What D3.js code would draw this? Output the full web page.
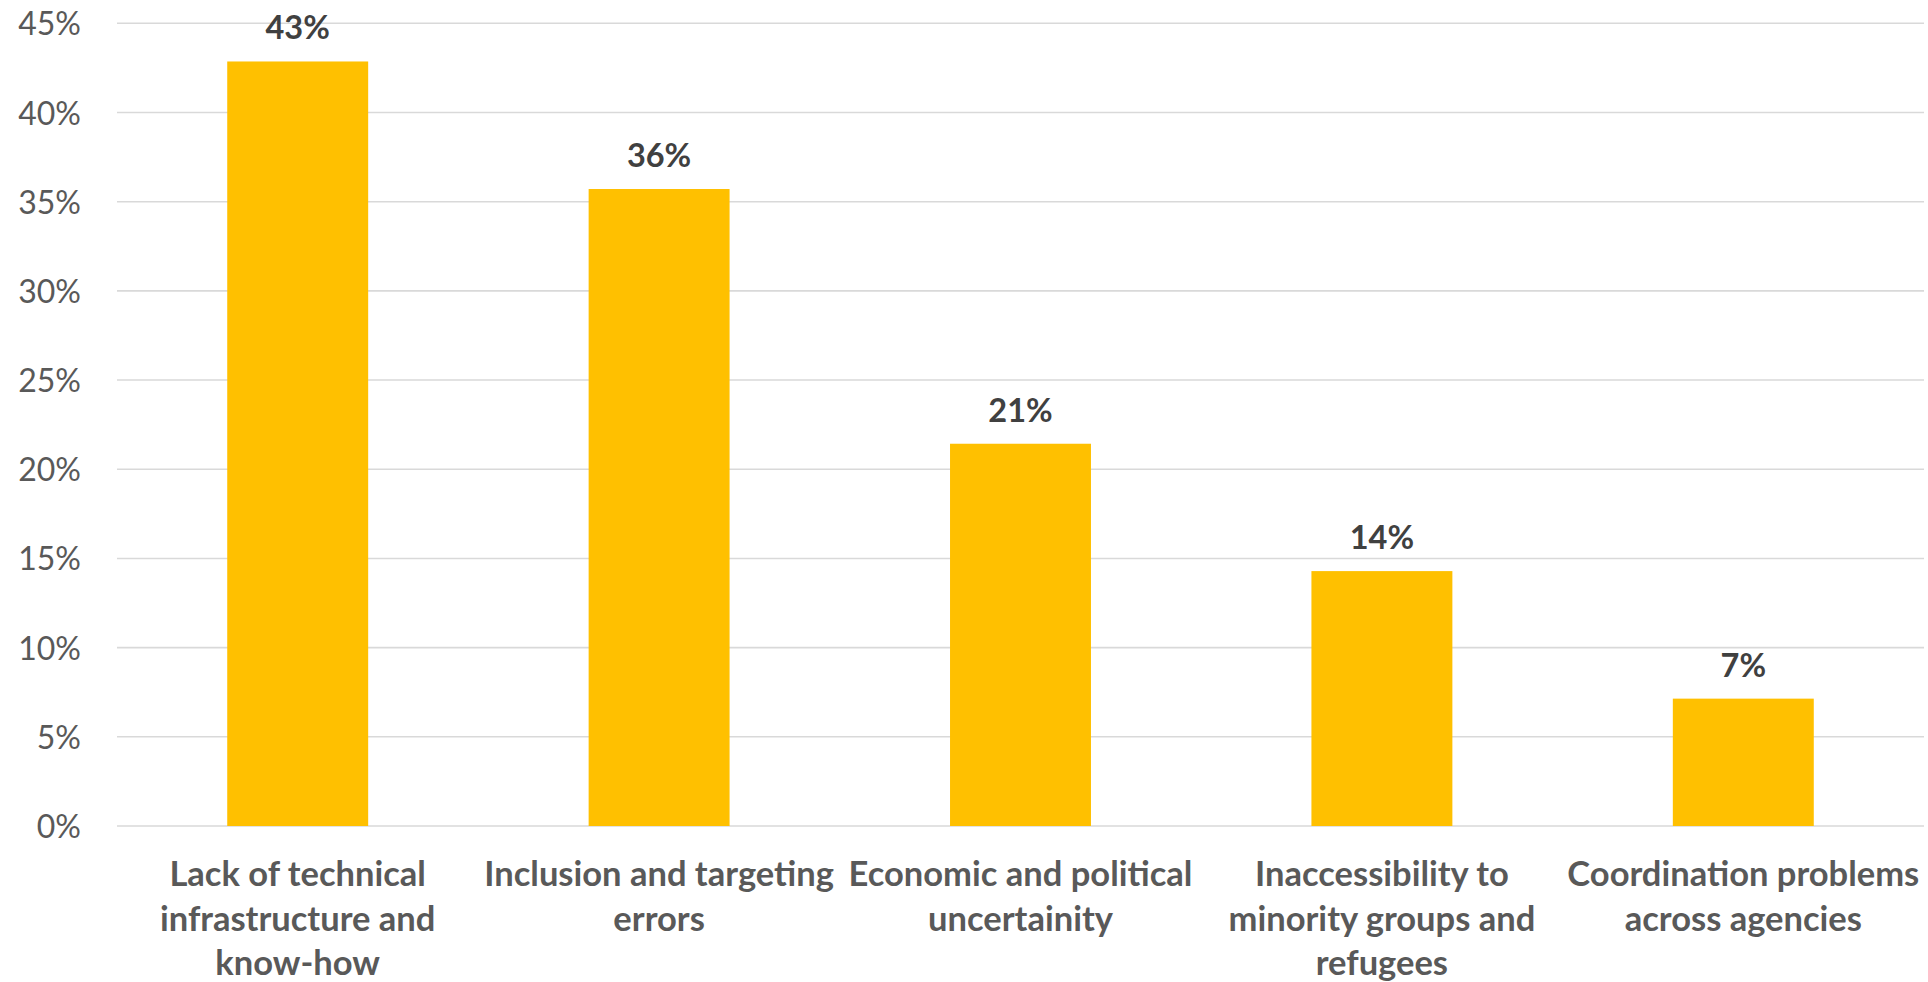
<!DOCTYPE html>
<html><head><meta charset="utf-8">
<script src="https://cdn.jsdelivr.net/npm/d3@7"></script>
<style>html,body{margin:0;padding:0;background:#fff;}svg{display:block;}</style>
</head><body>
<svg id="chart" width="1928" height="982"></svg>
<script>
const categories = [
  "Lack of technical infrastructure and know-how",
  "Inclusion and targeting errors",
  "Economic and political uncertainity",
  "Inaccessibility to minority groups and refugees",
  "Coordination problems across agencies"
];
const categoryLines = [
  ["Lack of technical", "infrastructure and", "know-how"],
  ["Inclusion and targeting", "errors"],
  ["Economic and political", "uncertainity"],
  ["Inaccessibility to", "minority groups and", "refugees"],
  ["Coordination problems", "across agencies"]
];
const values = [0.4286, 0.3571, 0.2143, 0.1429, 0.0714];
const valueLabels = ["43%", "36%", "21%", "14%", "7%"];
const yTicks = [0, 0.05, 0.10, 0.15, 0.20, 0.25, 0.30, 0.35, 0.40, 0.45];

(function () {
const svg = d3.select("#chart");
const mLeft = 117, mRight = 1924, mTop = 23.3, mBottom = 826;
const font = "Lato, 'Open Sans', sans-serif";

const x = d3.scaleBand().domain(categories).range([mLeft, mRight]).paddingInner(0.61).paddingOuter(0.305);
const y = d3.scaleLinear().domain([0, 0.45]).range([mBottom, mTop]);

// gridlines
svg.append("g").selectAll("line").data(yTicks).join("line")
  .attr("x1", mLeft).attr("x2", mRight)
  .attr("y1", d => y(d)).attr("y2", d => y(d))
  .attr("stroke", "#d9d9d9").attr("stroke-width", 1.6);

// y tick labels
const yAxis = d3.axisLeft(y).tickValues(yTicks).tickFormat(d3.format(".0%")).tickSize(0).tickPadding(36);
const ga = svg.append("g").attr("transform", `translate(${mLeft},0)`).call(yAxis);
ga.select(".domain").remove();
ga.selectAll("text")
  .attr("font-family", font).attr("font-size", 32).attr("fill", "#595959")
  .attr("dy", "0.36em");

// bars
svg.append("g").selectAll("rect").data(values).join("rect")
  .attr("x", (d, i) => x(categories[i]))
  .attr("width", x.bandwidth())
  .attr("y", d => y(d))
  .attr("height", d => y(0) - y(d))
  .attr("fill", "#FFC000");

// value labels
svg.append("g").selectAll("text").data(values).join("text")
  .attr("x", (d, i) => x(categories[i]) + x.bandwidth() / 2)
  .attr("y", d => y(d) - 22)
  .attr("text-anchor", "middle")
  .attr("font-family", font).attr("font-weight", "bold").attr("font-size", 32.5)
  .attr("fill", "#404040")
  .text((d, i) => valueLabels[i]);

// category labels
const cg = svg.append("g").selectAll("text").data(categoryLines).join("text")
  .attr("text-anchor", "middle")
  .attr("font-family", font).attr("font-weight", "bold").attr("font-size", 34.5)
  .attr("fill", "#595959");
cg.each(function (lines, i) {
  const cx = x(categories[i]) + x.bandwidth() / 2;
  d3.select(this).selectAll("tspan").data(lines).join("tspan")
    .attr("x", cx)
    .attr("y", (l, j) => mBottom + 60 + j * 44.5)
    .text(l => l);
});
})();
</script>
</body></html>
